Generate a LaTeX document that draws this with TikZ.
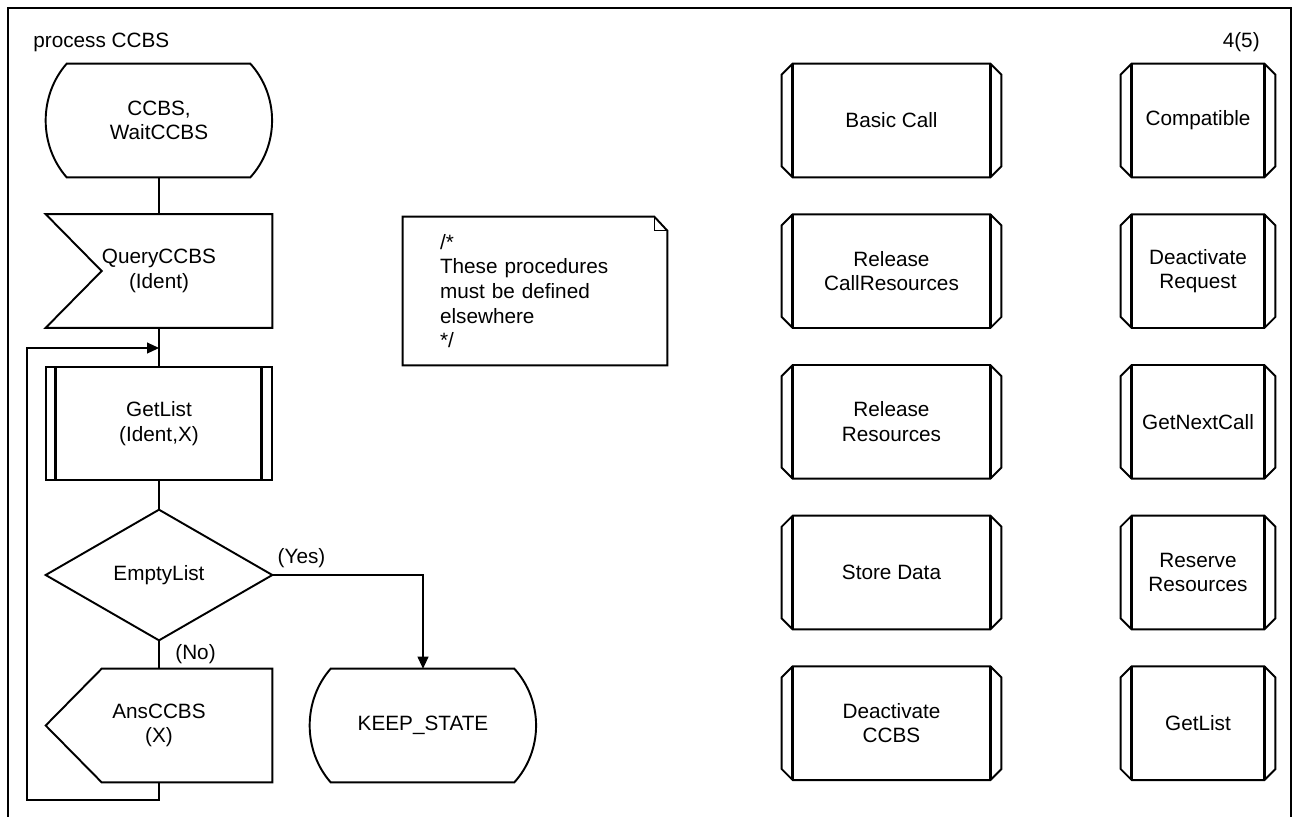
\documentclass[tikz,border=0pt]{standalone}
\usepackage{fontspec}
\setmainfont{Liberation Sans}
\usetikzlibrary{arrows.meta, calc, positioning}

\tikzset{
  sdl/.style={minimum width=4.52cm, minimum height=2.26cm, inner sep=0pt, align=center},
  decl/.style={minimum height=2.26cm, inner sep=0pt, align=center},
  outline/.style={line width=1.1pt, line join=miter},
  bar/.style={line width=1.7pt},
  flow/.style={line width=0.6pt},
  note/.style={minimum width=5.28cm, minimum height=2.96cm, text width=3.8cm,
    inner xsep=0.74cm, inner ysep=0pt, align=left}
}

% SDL symbols, drawn round a named node
\newcommand{\stateshape}[1]{%
  \draw[outline] ($(#1.north west)+(21,0)$) -- ($(#1.north east)+(-22,0)$)
    .. controls ($(#1.north east)+(7,32)$) and ($(#1.south east)+(7,-32)$) .. ($(#1.south east)+(-22,0)$)
    -- ($(#1.south west)+(21,0)$)
    .. controls ($(#1.south west)+(-7,-32)$) and ($(#1.north west)+(-7,32)$) .. ($(#1.north west)+(21,0)$) -- cycle;}
\newcommand{\inputshape}[1]{%
  \draw[outline] (#1.north west) -- (#1.north east) -- (#1.south east) -- (#1.south west)
    -- ($(#1.west)+(56,0)$) -- cycle;}
\newcommand{\outputshape}[1]{%
  \draw[outline] ($(#1.north west)+(56,0)$) -- (#1.north east) -- (#1.south east)
    -- ($(#1.south west)+(56,0)$) -- (#1.west) -- cycle;}
\newcommand{\callshape}[1]{%
  \draw[outline] (#1.north west) rectangle (#1.south east);
  \draw[bar] ($(#1.north west)+(10,0)$) -- ($(#1.south west)+(10,0)$)
    ($(#1.north east)+(-11,0)$) -- ($(#1.south east)+(-11,0)$);}
\newcommand{\decisionshape}[1]{%
  \draw[outline] (#1.north) -- (#1.east) -- (#1.south) -- (#1.west) -- cycle;}
\newcommand{\procshape}[1]{%
  \draw[outline] ($(#1.north west)+(11,0)$) -- ($(#1.north east)+(-11,0)$) -- ++(11,11)
    -- ($(#1.south east)+(0,-11)$) -- ++(-11,11) -- ($(#1.south west)+(11,0)$) -- ++(-11,-11)
    -- ($(#1.north west)+(0,11)$) -- cycle;
  \draw[bar] ($(#1.north west)+(11,0)$) -- ($(#1.south west)+(11,0)$)
    ($(#1.north east)+(-11,0)$) -- ($(#1.south east)+(-11,0)$);}
\newcommand{\noteshape}[1]{%
  \draw[outline] (#1.north west) -- ($(#1.north east)+(-13,0)$) -- ($(#1.north east)+(0,14)$)
    -- (#1.south east) -- (#1.south west) -- cycle;
  \draw[flow] ($(#1.north east)+(-13,0)$) -- ($(#1.north east)+(-13,14)$) -- ($(#1.north east)+(0,14)$);}

\begin{document}
\begin{tikzpicture}[x=0.02cm, y=-0.02cm,
    >={Triangle[length=2.4mm,width=2.2mm]},
    every node/.style={font=\fontsize{11.8}{14}\selectfont},
    node distance=0.74cm]

  \useasboundingbox (0,0) rectangle (1294,816);
  % frame
  \draw[outline] (8,820) -- (8,8) -- (1291,8) -- (1291,820);
  \node[anchor=base west, inner sep=0pt] (title) at (33,47) {process CCBS};
  \node[anchor=base east, inner sep=0pt] (page) at (1260,47) {4(5)};

  % process graph
  \node[sdl] (start) at (159,120.5) {CCBS,\\WaitCCBS};
  \node[sdl] (query) at (159,271) {QueryCCBS\\(Ident)};
  \node[sdl] (getlist) at (159,423.5) {GetList\\(Ident,X)};
  \node[sdl, minimum height=2.6cm] (empty) at (159,575) {EmptyList};
  \node[sdl] (ans) at (159,725.5) {AnsCCBS\\(X)};
  \node[sdl] (keep) at (423,725.5) {KEEP\_STATE};
  \stateshape{start}
  \inputshape{query}
  \callshape{getlist}
  \decisionshape{empty}
  \outputshape{ans}
  \stateshape{keep}

  \coordinate (join) at (159,348);
  \coordinate (loopcorner) at (27,800);
  \draw[flow] (start) -- (query);
  \draw[flow] (query) -- (getlist);
  \draw[flow] (getlist) -- (empty);
  \draw[flow] (empty.south) -- (ans.north);
  \draw[flow, ->] (empty.east) -| (keep.north);
  \draw[flow, ->] (ans.south) |- (loopcorner) |- (join);
  \node[anchor=base west, inner sep=0pt] (yes) at ($(empty.east)+(5,-12)$) {(Yes)};
  \node[anchor=base west, inner sep=0pt] (no) at ($(empty.south)+(16,19)$) {(No)};

  % comment
  \node[note] (comment) at (535,291) {/*\\These procedures\\must be defined\\elsewhere\\{*}/};
  \noteshape{comment}

  % procedure declarations
  \node[decl, minimum width=4.38cm] (basiccall) at (891.5,120.5) {Basic Call};
  \node[decl, minimum width=4.38cm, below=of basiccall] (releasecall) {Release\\CallResources};
  \node[decl, minimum width=4.38cm, below=of releasecall] (releaseres) {Release\\Resources};
  \node[decl, minimum width=4.38cm, below=of releaseres] (storedata) {Store Data};
  \node[decl, minimum width=4.38cm, below=of storedata] (deactccbs) {Deactivate\\CCBS};
  \node[decl, minimum width=3.08cm] (compatible) at (1198,120.5) {Compatible};
  \node[decl, minimum width=3.08cm, below=of compatible] (deactreq) {Deactivate\\Request};
  \node[decl, minimum width=3.08cm, below=of deactreq] (getnext) {GetNextCall};
  \node[decl, minimum width=3.08cm, below=of getnext] (reserveres) {Reserve\\Resources};
  \node[decl, minimum width=3.08cm, below=of reserveres] (getlistproc) {GetList};
  \foreach \p in {basiccall, releasecall, releaseres, storedata, deactccbs,
                  compatible, deactreq, getnext, reserveres, getlistproc} {
    \procshape{\p}
  }

\end{tikzpicture}
\end{document}
